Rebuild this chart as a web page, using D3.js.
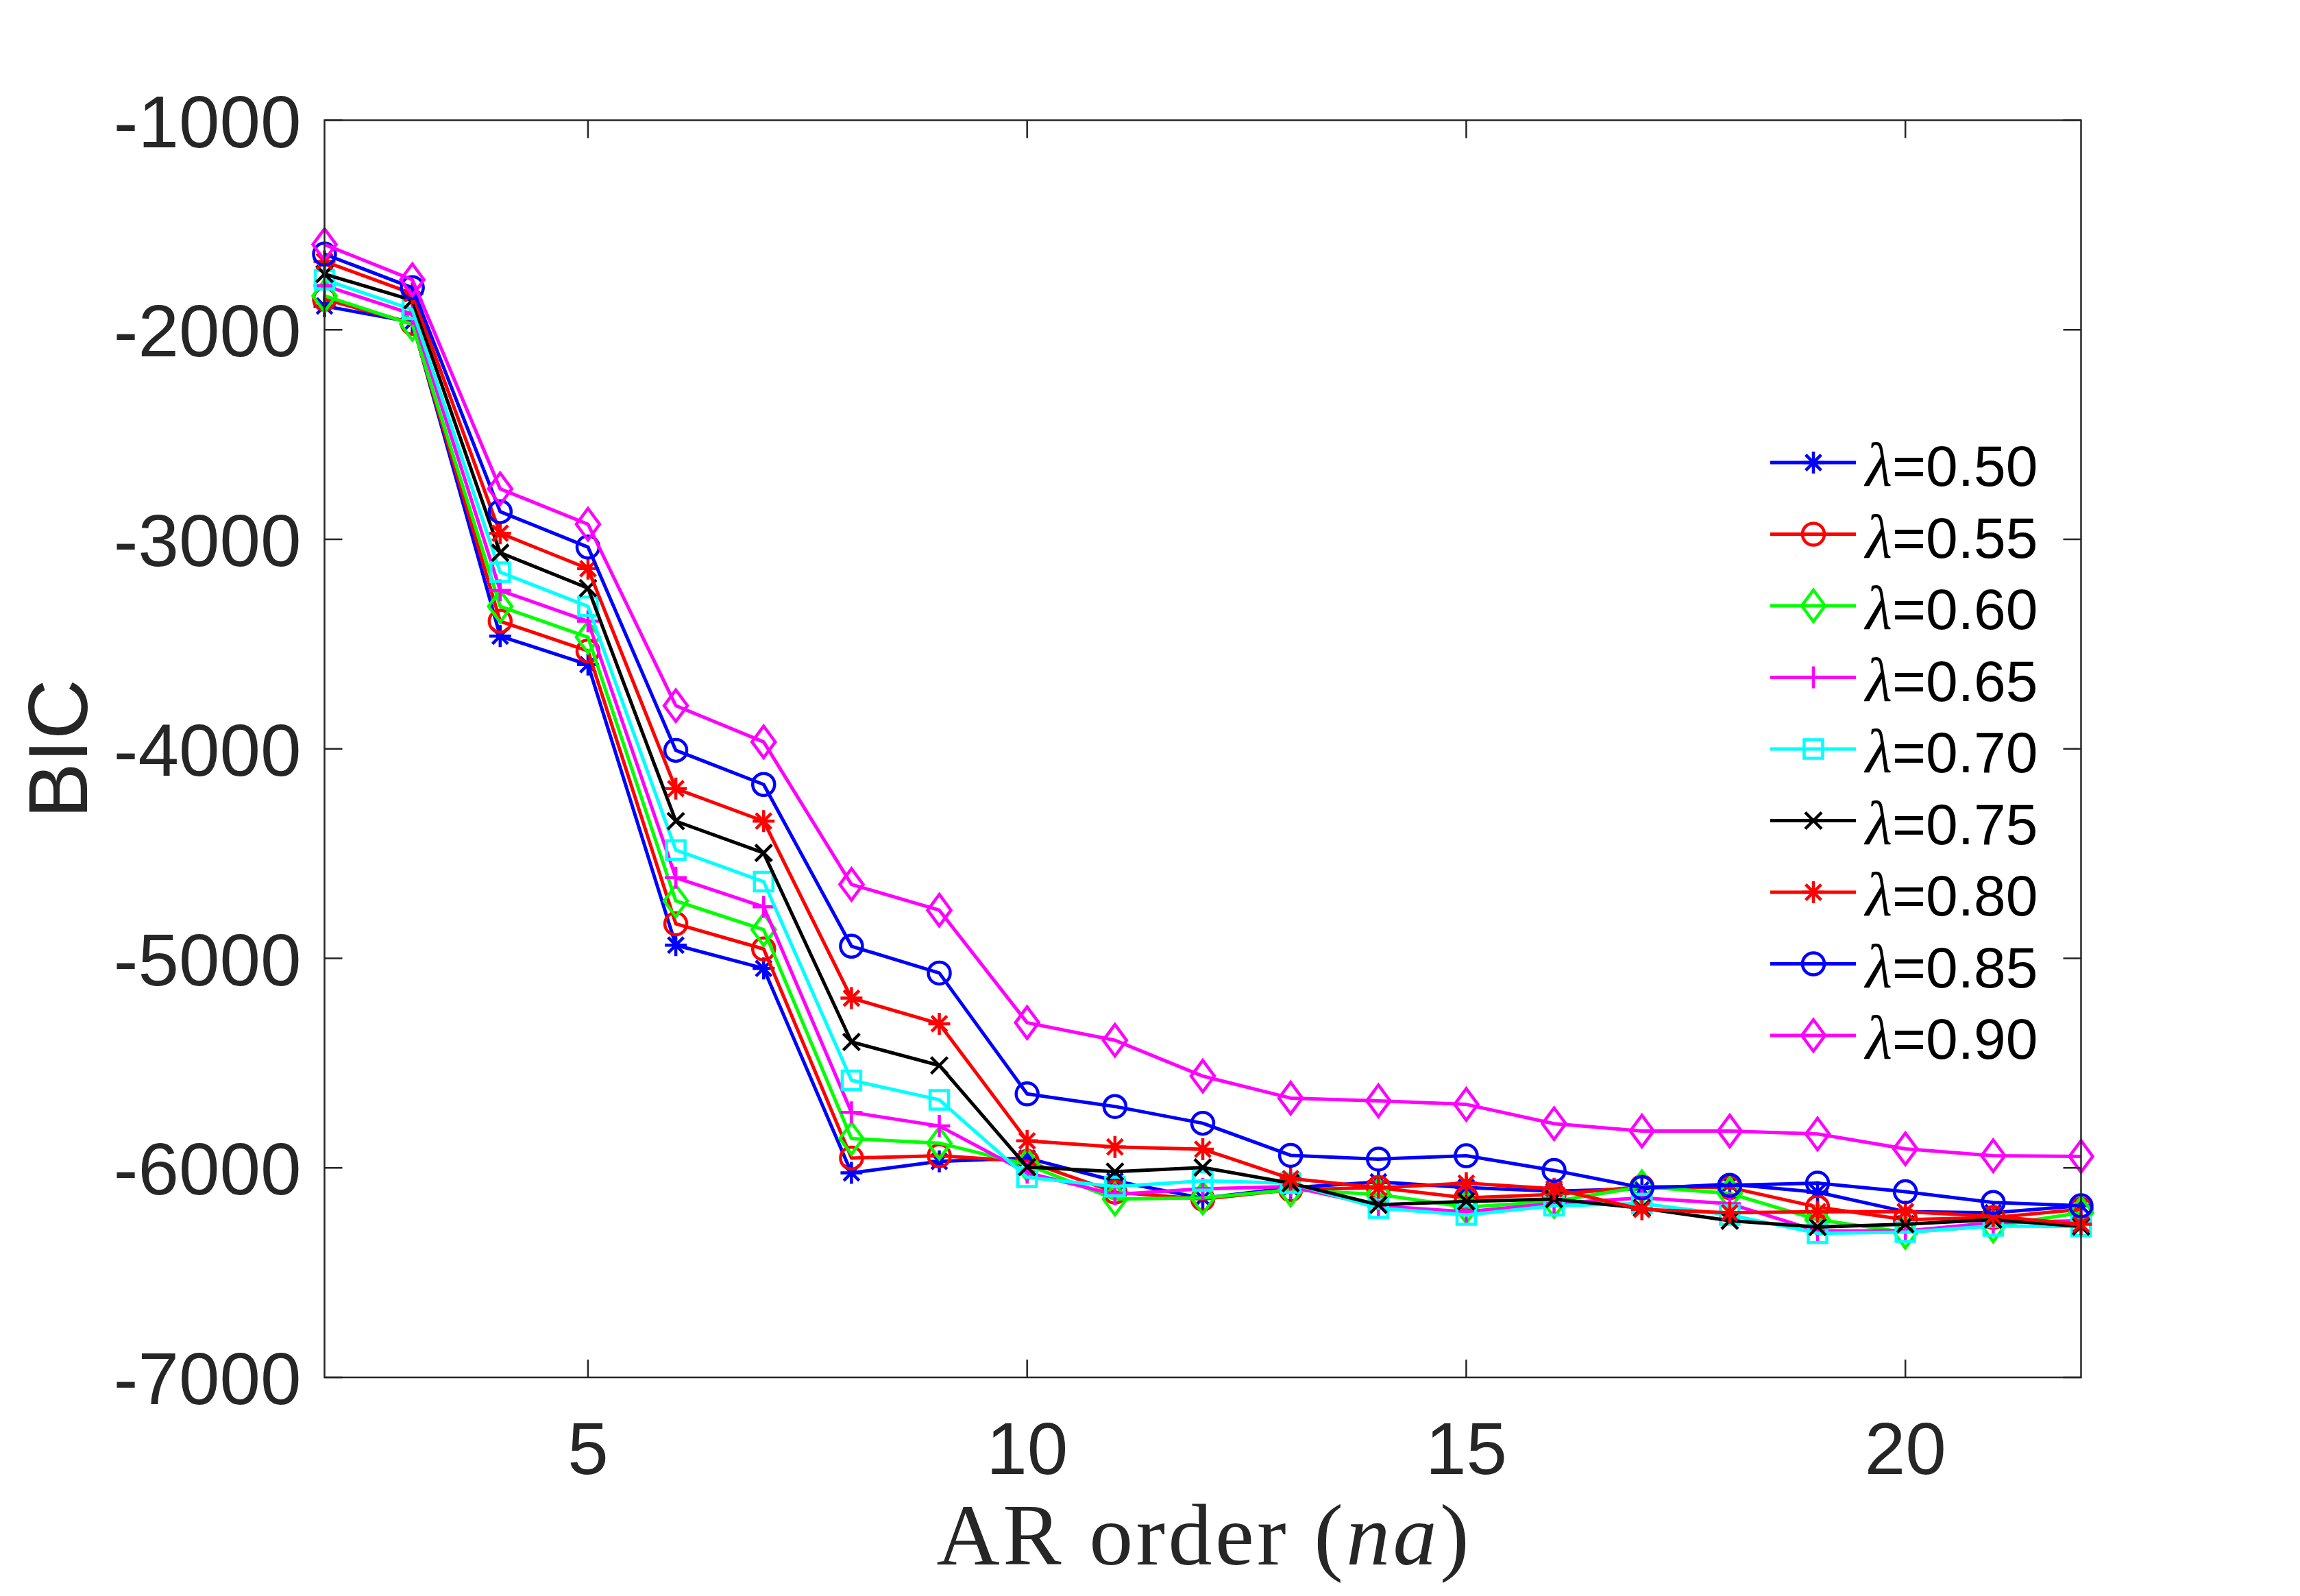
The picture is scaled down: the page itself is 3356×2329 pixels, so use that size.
<!DOCTYPE html>
<html>
<head>
<meta charset="utf-8">
<script src="https://cdn.jsdelivr.net/npm/d3@7"></script>
<style>
  html, body { margin: 0; padding: 0; background: #fff; }
  svg { display: block; }
</style>
</head>
<body>
<svg id="chart"></svg>
<script>
// AR order values
var orders = [2,3,4,5,6,7,8,9,10,11,12,13,14,15,16,17,18,19,20,21,22];

// BIC per lambda
var lam050 = [-1887,-1963,-3462,-3598,-4937,-5048,-6024,-5969,-5953,-6062,-6145,-6095,-6067,-6094,-6111,-6100,-6078,-6116,-6209,-6214,-6181];
var lam055 = [-1854,-1969,-3391,-3533,-4835,-4955,-5953,-5942,-5969,-6116,-6149,-6105,-6094,-6143,-6127,-6090,-6094,-6187,-6247,-6237,-6198];
var lam060 = [-1838,-1974,-3320,-3467,-4726,-4863,-5860,-5882,-5985,-6149,-6143,-6105,-6127,-6187,-6160,-6090,-6122,-6247,-6307,-6277,-6214];
var lam065 = [-1789,-1925,-3244,-3391,-4615,-4754,-5735,-5800,-6023,-6127,-6100,-6089,-6182,-6209,-6170,-6143,-6171,-6301,-6301,-6262,-6252];
var lam070 = [-1761,-1903,-3157,-3320,-4483,-4634,-5582,-5675,-6045,-6089,-6062,-6073,-6192,-6225,-6181,-6170,-6225,-6312,-6307,-6277,-6280];
var lam075 = [-1734,-1859,-3064,-3233,-4345,-4497,-5399,-5511,-5996,-6018,-5998,-6073,-6176,-6160,-6149,-6192,-6252,-6282,-6269,-6247,-6280];
var lam080 = [-1674,-1827,-2971,-3140,-4190,-4345,-5190,-5312,-5871,-5900,-5911,-6051,-6095,-6073,-6100,-6198,-6214,-6209,-6209,-6231,-6269];
var lam085 = [-1639,-1799,-2868,-3037,-4007,-4170,-4942,-5070,-5647,-5707,-5787,-5940,-5958,-5942,-6012,-6094,-6083,-6073,-6114,-6165,-6181];
var lam090 = [-1593,-1761,-2759,-2928,-3794,-3967,-4647,-4770,-5307,-5391,-5562,-5667,-5680,-5697,-5789,-5824,-5824,-5838,-5909,-5942,-5945];

var lambdas = ["0.50","0.55","0.60","0.65","0.70","0.75","0.80","0.85","0.90"];
var colors  = ["#0000ff","#ff0000","#00ff00","#ff00ff","#00ffff","#000000","#ff0000","#0000ff","#ff00ff"];
var markers = ["star","circle","diamond","plus","square","x","star","circle","diamond"];

var xTicks = [5,10,15,20];
var yTicks = [-1000,-2000,-3000,-4000,-5000,-6000,-7000];

var allSeries = [lam050,lam055,lam060,lam065,lam070,lam075,lam080,lam085,lam090];

var W = 3356, H = 2329;
var padL = 473.5, padR = 3036.5, padT = 175.5, padB = 2010;
var ink = "#262626";

var svg = d3.select("#chart").attr("width", W).attr("height", H);
svg.append("rect").attr("width", W).attr("height", H).attr("fill", "#fff");

var x = d3.scaleLinear().domain([2,22]).range([padL,padR]);
var y = d3.scaleLinear().domain([-7000,-1000]).range([padB,padT]);

// marker shapes as path strings
function markerPath(type){
	switch(type){
		case "star": return "M0,-16V16M-16,0H16M-11.3,-11.3L11.3,11.3M-11.3,11.3L11.3,-11.3";
		case "circle": return "M16,0A16,16 0 1,1 -16,0A16,16 0 1,1 16,0Z";
		case "diamond": return "M0,-23L17,0L0,23L-17,0Z";
		case "plus": return "M0,-16V16M-16,0H16";
		case "square": return "M-13.5,-13.5H13.5V13.5H-13.5Z";
		case "x": return "M-12,-12L12,12M-12,12L12,-12";
	}
}

var line = d3.line()
	.x(function(d){ return x(d[0]); })
	.y(function(d){ return y(d[1]); });

var plot = svg.append("g");
allSeries.forEach(function(vals, i){
	var pts = orders.map(function(o, j){ return [o, vals[j]]; });
	plot.append("path")
		.attr("d", line(pts))
		.attr("fill", "none")
		.attr("stroke", colors[i])
		.attr("stroke-width", 5)
		.attr("stroke-linejoin", "round");
	plot.selectAll(null).data(pts).enter().append("path")
		.attr("transform", function(d){ return "translate(" + x(d[0]) + "," + y(d[1]) + ")"; })
		.attr("d", markerPath(markers[i]))
		.attr("fill", "none")
		.attr("stroke", colors[i])
		.attr("stroke-width", 4.5);
});

// axes box + ticks
var axes = svg.append("g");
axes.append("rect")
	.attr("x", padL).attr("y", padT)
	.attr("width", padR-padL).attr("height", padB-padT)
	.attr("fill", "none").attr("stroke", ink).attr("stroke-width", 2.5);

var tickLen = 26;
xTicks.forEach(function(t){
	axes.append("line").attr("x1", x(t)).attr("x2", x(t)).attr("y1", padB).attr("y2", padB-tickLen)
		.attr("stroke", ink).attr("stroke-width", 2.5);
	axes.append("line").attr("x1", x(t)).attr("x2", x(t)).attr("y1", padT).attr("y2", padT+tickLen)
		.attr("stroke", ink).attr("stroke-width", 2.5);
	axes.append("text").attr("x", x(t)).attr("y", padB+141)
		.attr("text-anchor", "middle")
		.attr("font-family", "'Liberation Sans', Arial, sans-serif")
		.attr("font-size", 107).attr("fill", ink)
		.text(t);
});
yTicks.forEach(function(t){
	axes.append("line").attr("x1", padL).attr("x2", padL+tickLen).attr("y1", y(t)).attr("y2", y(t))
		.attr("stroke", ink).attr("stroke-width", 2.5);
	axes.append("line").attr("x1", padR).attr("x2", padR-tickLen).attr("y1", y(t)).attr("y2", y(t))
		.attr("stroke", ink).attr("stroke-width", 2.5);
	axes.append("text").attr("x", padL-34).attr("y", y(t)+39)
		.attr("text-anchor", "end")
		.attr("font-family", "'Liberation Sans', Arial, sans-serif")
		.attr("font-size", 107).attr("fill", ink)
		.text(t);
});

// axis labels
svg.append("text")
	.attr("transform", "translate(127," + ((padT+padB)/2) + ") rotate(-90)")
	.attr("text-anchor", "middle")
	.attr("font-family", "'Liberation Sans', Arial, sans-serif")
	.attr("font-size", 122).attr("fill", ink)
	.text("BIC");

var xl = svg.append("text")
	.attr("x", (padL+padR)/2).attr("y", 2283)
	.attr("text-anchor", "middle")
	.attr("font-family", "'Liberation Serif', 'DejaVu Serif', serif")
	.attr("font-size", 128).attr("fill", ink)
	.attr("textLength", 777).attr("lengthAdjust", "spacing");
xl.append("tspan").text("AR order (");
xl.append("tspan").attr("font-style", "italic").text("na");
xl.append("tspan").text(")");

// legend
var legend = svg.append("g");
lambdas.forEach(function(l, i){
	var ly = 675 + i*104.5;
	legend.append("line").attr("x1", 2583).attr("x2", 2708).attr("y1", ly).attr("y2", ly)
		.attr("stroke", colors[i]).attr("stroke-width", 5);
	legend.append("path").attr("transform", "translate(2646," + ly + ")")
		.attr("d", markerPath(markers[i]))
		.attr("fill", "none").attr("stroke", colors[i]).attr("stroke-width", 4.5);
	var t = legend.append("text").attr("x", 2722).attr("y", ly+34)
		.attr("font-family", "'Liberation Sans', Arial, sans-serif")
		.attr("font-size", 84).attr("fill", "#000");
	t.append("tspan").attr("font-family", "'Liberation Serif', 'DejaVu Serif', serif")
		.attr("font-style", "italic").attr("font-size", 90).text("λ");
	t.append("tspan").text("=" + l);
});
</script>
</body>
</html>
